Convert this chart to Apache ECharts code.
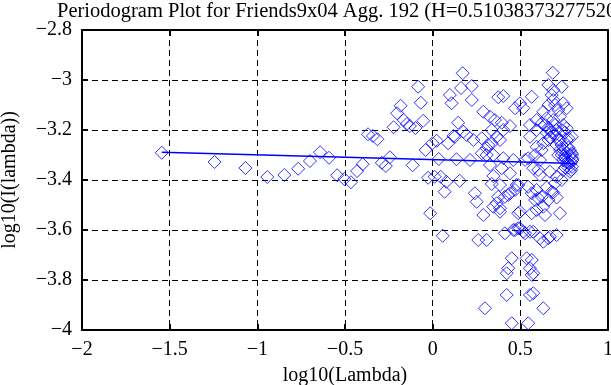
<!DOCTYPE html>
<html>
<head>
<meta charset="utf-8">
<script src="https://cdn.jsdelivr.net/npm/echarts@6/dist/echarts.min.js"></script>
<style>
  html, body { margin: 0; padding: 0; background: #ffffff; }
  #chart { width: 611px; height: 385px; }
</style>
</head>
<body>
<div id="chart"></div>
<script>
// ---- data ----
const titleText = 'Periodogram Plot for Friends9x04 Agg. 192 (H=0.510383732775202)';
const xAxisName = 'log10(Lambda)';
const yAxisName = 'log10(I(lambda))';

const xTicks = [-2, -1.5, -1, -0.5, 0, 0.5, 1];
const xTickLabels = ['\u22122', '\u22121.5', '\u22121', '\u22120.5', '0', '0.5', '1'];
const yTicks = [-4, -3.8, -3.6, -3.4, -3.2, -3, -2.8];
const yTickLabels = ['\u22124', '\u22123.8', '\u22123.6', '\u22123.4', '\u22123.2', '\u22123', '\u22122.8'];

// low frequencies: [log10(lambda), log10(I(lambda))]
const lowBand = [
  [-1.545,-3.291],[-1.244,-3.328],[-1.068,-3.352],[-0.943,-3.388],[-0.846,-3.380],
  [-0.767,-3.355],[-0.700,-3.324],[-0.642,-3.289],[-0.591,-3.311],[-0.545,-3.381],
  [-0.504,-3.396],[-0.466,-3.409],[-0.431,-3.364],[-0.399,-3.337],[-0.369,-3.217],
  [-0.341,-3.224],[-0.315,-3.237],[-0.290,-3.331],[-0.267,-3.344],[-0.244,-3.309],
  [-0.223,-3.189],[-0.203,-3.133],[-0.183,-3.103],[-0.165,-3.160],[-0.147,-3.176],
  [-0.130,-3.184],[-0.114,-3.341],[-0.098,-3.192],[-0.083,-3.027],[-0.068,-3.091],
  [-0.054,-3.163],[-0.040,-3.280],[-0.026,-3.391],[-0.014,-3.533],[-0.001,-3.253],
  [0.011,-3.387],[0.023,-3.243],[0.035,-3.316],[0.046,-3.387],[0.057,-3.623],
  [0.068,-3.447],[0.078,-3.407],[0.088,-3.253],[0.098,-3.060],[0.108,-3.093],
  [0.118,-3.224],[0.127,-3.227],[0.136,-3.317],[0.145,-3.171],[0.154,-3.403],
  [0.162,-3.032],[0.171,-2.973]
];

// middle frequencies
const midBand = [
  [0.223,-3.024],[0.223,-3.080],[0.194,-3.220],[0.280,-3.233],[0.232,-3.240],
  [0.289,-3.127],[0.327,-3.147],[0.355,-3.160],[0.394,-3.171],[0.441,-3.184],
  [0.365,-3.227],[0.317,-3.260],[0.280,-3.293],[0.346,-3.300],[0.374,-3.069],
  [0.403,-3.064],[0.470,-3.113],[0.498,-3.093],[0.517,-3.113],[0.555,-3.180],
  [0.565,-3.067],[0.394,-3.353],[0.441,-3.373],[0.346,-3.384],[0.460,-3.320],
  [0.527,-3.320],[0.241,-3.453],[0.251,-3.487],[0.337,-3.416],[0.374,-3.467],
  [0.431,-3.460],[0.470,-3.440],[0.384,-3.513],[0.346,-3.507],[0.289,-3.540],
  [0.498,-3.527],[0.565,-3.533],[0.488,-3.420],[0.545,-3.427],[0.260,-3.640],
  [0.308,-3.640],[0.412,-3.613],[0.460,-3.600],[0.488,-3.593],[0.517,-3.607],
  [0.555,-3.607],[0.451,-3.713],[0.536,-3.713],[0.431,-3.753],[0.422,-3.773],
  [0.555,-3.753],[0.565,-3.780],[0.422,-3.860],[0.555,-3.860],[0.298,-3.913],
  [0.451,-3.973],[0.545,-3.973],
  [0.213,-3.320],[0.308,-3.300],[0.327,-3.340],[0.403,-3.313],[0.545,-3.313],
  [0.384,-3.420],[0.479,-3.420],[0.365,-3.493],[0.384,-3.527],[0.412,-3.467],
  [0.441,-3.453],[0.488,-3.533],[0.593,-3.440],[0.602,-3.473],[0.470,-3.600],
  [0.498,-3.593],[0.527,-3.613],[0.612,-3.633],[0.669,-3.627],
  [0.337,-3.200],[0.403,-3.200],[0.175,-3.207],[0.308,-3.273],[0.337,-3.253],
  [0.384,-3.240],[0.584,-3.300],[0.555,-3.227],[0.593,-3.200]
];

// high frequencies (dense cluster)
const highBand = [
  [0.685,-2.971],[0.660,-3.020],[0.688,-3.040],[0.736,-3.027],[0.688,-3.080],
  [0.745,-3.093],[0.764,-3.113],[0.631,-3.127],[0.593,-3.160],[0.622,-3.173],
  [0.650,-3.153],[0.726,-3.147],[0.745,-3.180],[0.764,-3.193],[0.774,-3.233],
  [0.793,-3.227],[0.669,-3.200],[0.698,-3.220],[0.726,-3.240],[0.660,-3.240],
  [0.631,-3.253],[0.593,-3.267],[0.793,-3.293],[0.795,-3.313],[0.774,-3.333],
  [0.795,-3.347],[0.783,-3.367],[0.798,-3.320],[0.755,-3.300],[0.574,-3.353],
  [0.612,-3.380],[0.669,-3.367],[0.707,-3.387],[0.736,-3.400],[0.698,-3.413],
  [0.565,-3.453],[0.584,-3.480],[0.622,-3.467],[0.660,-3.480],[0.631,-3.507],
  [0.679,-3.447],[0.593,-3.520],[0.641,-3.540],[0.726,-3.533],[0.574,-3.607],
  [0.631,-3.647],[0.660,-3.633],[0.707,-3.620],[0.565,-3.720],[0.574,-3.773],
  [0.574,-3.853],[0.631,-3.913],
  [0.735,-3.260],[0.745,-3.280],[0.755,-3.310],[0.764,-3.290],[0.774,-3.270],
  [0.783,-3.300],[0.790,-3.330],[0.774,-3.350],[0.764,-3.330],[0.755,-3.350],
  [0.745,-3.320],[0.790,-3.360],[0.783,-3.280],[0.795,-3.300],[0.736,-3.300],
  [0.726,-3.280],[0.716,-3.240],[0.707,-3.200],[0.698,-3.180],[0.688,-3.160],
  [0.679,-3.210],[0.669,-3.230],[0.660,-3.190],[0.650,-3.210],[0.641,-3.180],
  [0.707,-3.260],[0.716,-3.300],[0.745,-3.360],[0.764,-3.240],[0.755,-3.210],
  [0.736,-3.200],[0.716,-3.120],[0.698,-3.100],[0.679,-3.060],[0.660,-3.100],
  [0.622,-3.280],[0.612,-3.320],[0.602,-3.360],[0.650,-3.430],[0.688,-3.450],
  [0.707,-3.470]
];

// least-squares fit line end points
const fitLine = [[-1.545,-3.289],[0.82,-3.334]];

// ---- chart ----
const FONT = 'Liberation Serif';
const BLUE = '#0000ff';
function pick(ticks, labels, v) {
  const i = ticks.findIndex(t => Math.abs(t - v) < 1e-6);
  return i >= 0 ? labels[i] : '';
}
const axisLineStyle = { color: '#000', width: 2 };
const labelStyle = { color: '#000', fontFamily: FONT, fontSize: 20 };

const chart = echarts.init(document.getElementById('chart'), null, { renderer: 'canvas' });
chart.setOption({
  animation: false,
  backgroundColor: '#ffffff',
  title: {
    text: titleText,
    left: 57, top: 1, padding: 0,
    textStyle: { color: '#000', fontFamily: FONT, fontSize: 20.5, fontWeight: 'normal' }
  },
  grid: { left: 82, right: 3, top: 30, bottom: 55, containLabel: false, outerBoundsMode: 'none' },
  xAxis: [{
    type: 'value', position: 'bottom', min: -2, max: 1, interval: 0.5,
    name: xAxisName, nameLocation: 'middle', nameGap: 36,
    nameTextStyle: labelStyle,
    axisLine: { show: true, onZero: false, lineStyle: axisLineStyle },
    axisTick: { show: true, inside: true, length: 6, lineStyle: axisLineStyle },
    axisLabel: { margin: 10, ...labelStyle, formatter: v => pick(xTicks, xTickLabels, v) },
    splitLine: { show: true, lineStyle: { color: '#000', width: 1, type: [6, 4] } }
  }, {
    type: 'value', position: 'top', min: -2, max: 1, interval: 0.5,
    axisLine: { show: true, onZero: false, lineStyle: axisLineStyle },
    axisTick: { show: true, inside: true, length: 6, lineStyle: axisLineStyle },
    axisLabel: { show: false }, splitLine: { show: false }
  }],
  yAxis: [{
    type: 'value', position: 'left', min: -4, max: -2.8, interval: 0.2,
    name: yAxisName, nameLocation: 'middle', nameGap: 62, nameRotate: 90,
    nameTextStyle: labelStyle,
    axisLine: { show: true, onZero: false, lineStyle: axisLineStyle },
    axisTick: { show: true, inside: true, length: 6, lineStyle: axisLineStyle },
    axisLabel: { margin: 10, ...labelStyle, formatter: v => pick(yTicks, yTickLabels, v) },
    splitLine: { show: true, lineStyle: { color: '#000', width: 1, type: [6, 4] } }
  }, {
    type: 'value', position: 'right', min: -4, max: -2.8, interval: 0.2,
    axisLine: { show: true, onZero: false, lineStyle: axisLineStyle },
    axisTick: { show: true, inside: true, length: 6, lineStyle: axisLineStyle },
    axisLabel: { show: false }, splitLine: { show: false }
  }],
  series: [{
    type: 'scatter',
    xAxisIndex: 0, yAxisIndex: 0,
    data: lowBand.concat(midBand, highBand),
    symbol: 'diamond', symbolSize: 13,
    itemStyle: { color: 'transparent', borderColor: BLUE, borderWidth: 1 },
    silent: true
  }, {
    type: 'line',
    xAxisIndex: 0, yAxisIndex: 0,
    data: fitLine, showSymbol: false, symbol: 'none',
    lineStyle: { color: BLUE, width: 1.5 },
    silent: true
  }]
});
</script>
</body>
</html>
